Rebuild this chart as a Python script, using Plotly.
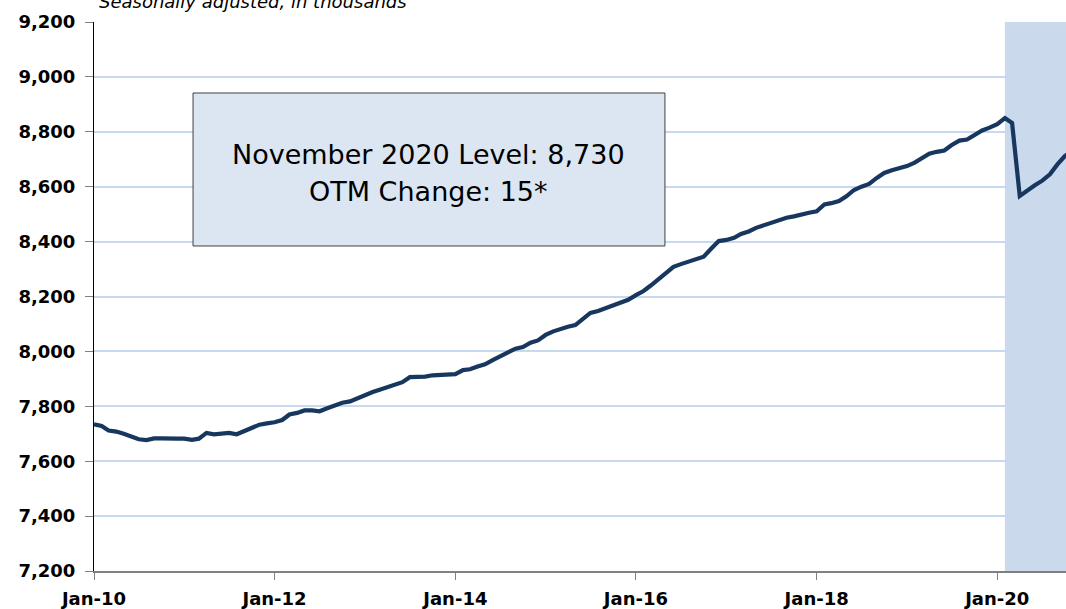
import pandas as pd
import plotly.graph_objects as go

# Monthly values, seasonally adjusted, in thousands (Jan 2010 - Nov 2020)
v2010 = [7734, 7728, 7712, 7708, 7700, 7690, 7680, 7677, 7683, 7683, 7684, 7682]
v2011 = [7682, 7678, 7682, 7703, 7698, 7699, 7703, 7698, 7710, 7722, 7733, 7738]
v2012 = [7742, 7750, 7770, 7776, 7785, 7785, 7782, 7793, 7805, 7813, 7818, 7830]
v2013 = [7840, 7852, 7860, 7870, 7880, 7888, 7906, 7907, 7908, 7913, 7915, 7918]
v2014 = [7917, 7932, 7935, 7945, 7953, 7968, 7982, 7997, 8010, 8016, 8032, 8040]
v2015 = [8060, 8073, 8082, 8090, 8096, 8118, 8140, 8147, 8158, 8170, 8180, 8188]
v2016 = [8205, 8220, 8240, 8262, 8285, 8308, 8318, 8327, 8337, 8345, 8375, 8402]
v2017 = [8406, 8414, 8428, 8437, 8450, 8460, 8470, 8480, 8487, 8492, 8500, 8505]
v2018 = [8510, 8535, 8540, 8548, 8565, 8588, 8600, 8610, 8632, 8650, 8660, 8668]
v2019 = [8675, 8688, 8703, 8720, 8727, 8732, 8752, 8768, 8772, 8790, 8805, 8815]
v2020 = [8828, 8850, 8832, 8566, 8587, 8605, 8622, 8645, 8682, 8712, 8730]

values = v2010 + v2011 + v2012 + v2013 + v2014 + v2015 + v2016 + v2017 + v2018 + v2019 + v2020
dates = pd.date_range("2010-01-01", periods=len(values), freq="MS")

y_ticks = list(range(7200, 9201, 200))
shade_start = "2020-02-01"
shade_end = "2020-12-01"
x_range = ["2010-01-01", "2020-10-05"]

subtitle = "Seasonally adjusted, in thousands"
box_line1 = "November 2020 Level: 8,730"
box_line2 = "OTM Change: 15*"

fig = go.Figure()
fig.add_trace(go.Scatter(
    x=dates, y=values, mode="lines",
    line=dict(color="#17375e", width=4.2),
    hoverinfo="skip", showlegend=False, cliponaxis=True,
))

# Shaded period
fig.add_shape(type="rect", xref="x", yref="paper",
              x0=shade_start, x1=shade_end, y0=0, y1=1,
              fillcolor="rgb(79,129,189)", opacity=0.3,
              line=dict(width=0), layer="between")

# Text box
fig.add_shape(type="rect", xref="paper", yref="paper",
              x0=0.1019, x1=0.5874, y0=0.592, y1=0.8707,
              fillcolor="#dce6f2", line=dict(color="#404040", width=1),
              layer="above")

tick_font = dict(family="DejaVu Sans", size=18, color="#000000", weight="bold")

fig.add_annotation(xref="paper", yref="paper", x=0.344, y=1 - (154.5 - 22) / 549,
                   text=box_line1, showarrow=False, xanchor="center", yanchor="middle",
                   font=dict(family="DejaVu Sans", size=27, color="#000000"))
fig.add_annotation(xref="paper", yref="paper", x=0.344, y=1 - (191.5 - 22) / 549,
                   text=box_line2, showarrow=False, xanchor="center", yanchor="middle",
                   font=dict(family="DejaVu Sans", size=27, color="#000000"))

fig.add_annotation(xref="paper", yref="paper", x=(97 - 94) / 972, y=1 + (22 - 14) / 549,
                   text="<i>" + subtitle + "</i>", showarrow=False,
                   xanchor="left", yanchor="bottom",
                   font=dict(family="DejaVu Sans", size=18, color="#000000"))

fig.update_layout(
    width=1066, height=609,
    margin=dict(l=94, r=0, t=22, b=38, pad=0),
    plot_bgcolor="#ffffff", paper_bgcolor="#ffffff",
    showlegend=False,
)
fig.update_xaxes(
    type="date", range=x_range,
    tick0="2010-01-01", dtick="M24", tickformat="%b-%y",
    ticks="outside", ticklen=7, tickwidth=1, tickcolor="#808080",
    showline=True, linecolor="#808080", linewidth=2,
    showgrid=False, zeroline=False,
    tickfont=tick_font, ticklabelstandoff=3,
)
fig.update_yaxes(
    range=[7200, 9200], tickvals=y_ticks, tickformat=",d",
    ticks="outside", ticklen=8, tickwidth=1, tickcolor="#808080",
    showline=True, linecolor="#000000", linewidth=1,
    showgrid=True, gridcolor="#c6d9f1", gridwidth=1.5,
    zeroline=False, tickfont=tick_font, ticklabelstandoff=6,
)

fig.write_html(
    "out.html",
    config={"displayModeBar": False},
    post_script="document.body.style.margin='0px';document.body.style.overflow='hidden';",
)
